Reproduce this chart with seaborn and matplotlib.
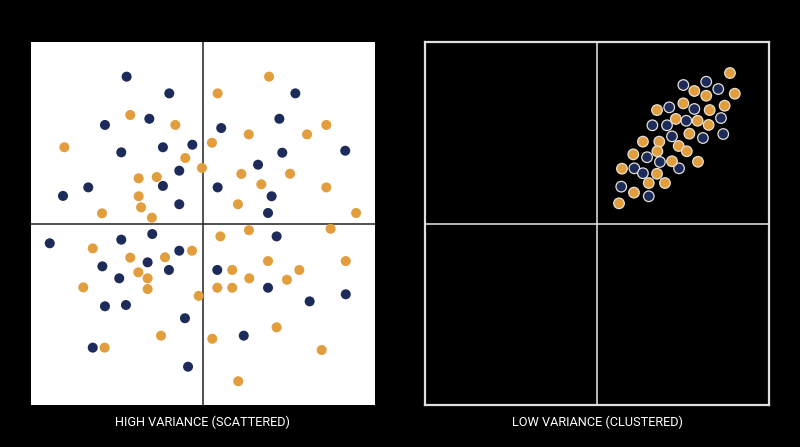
import numpy as np
import pandas as pd
import matplotlib
matplotlib.use("Agg")
import matplotlib.pyplot as plt
import seaborn as sns

# ---------------- data ----------------
# High variance panel
high_navy_x = [-0.444, -0.196, -0.312, -0.570, -0.233, -0.062, -0.475, -0.138, -0.233, -0.667,
               -0.814, -0.138, 0.537, 0.444, 0.106, 0.461, 0.827, 0.320, 0.085, 0.399,
               0.378, -0.295, -0.891, -0.475, -0.138, -0.585, -0.322, -0.198, -0.487, -0.570,
               -0.448, -0.105, -0.641, -0.087, 0.428, 0.083, 0.378, 0.620, 0.830, 0.237]
high_navy_y = [0.809, 0.717, 0.577, 0.543, 0.420, 0.434, 0.392, 0.291, 0.207, 0.199,
               0.152, 0.106, 0.717, 0.577, 0.526, 0.390, 0.401, 0.324, 0.199, 0.150,
               0.058, -0.058, -0.109, -0.089, -0.150, -0.236, -0.214, -0.256, -0.302, -0.456,
               -0.449, -0.522, -0.684, -0.789, -0.071, -0.256, -0.354, -0.429, -0.390, -0.618]
high_orange_x = [-0.423, -0.161, -0.806, -0.103, -0.006, -0.374, -0.269, -0.374, -0.360, -0.587,
                 -0.297, 0.384, 0.085, 0.717, 0.266, 0.605, 0.052, 0.223, 0.506, 0.339,
                 0.717, 0.203, 0.890, -0.641, -0.064, -0.423, -0.221, -0.376, -0.322, -0.322,
                 -0.696, -0.025, -0.244, -0.572, 0.267, 0.742, 0.101, 0.378, 0.170, 0.830,
                 0.560, 0.269, 0.488, 0.083, 0.170, 0.428, 0.054, 0.690, 0.205]
high_orange_y = [0.598, 0.543, 0.420, 0.361, 0.306, 0.249, 0.256, 0.150, 0.089, 0.056,
                 0.032, 0.809, 0.717, 0.543, 0.491, 0.491, 0.445, 0.273, 0.274, 0.216,
                 0.199, 0.106, 0.058, -0.137, -0.150, -0.188, -0.186, -0.269, -0.302, -0.361,
                 -0.352, -0.399, -0.618, -0.684, -0.037, -0.029, -0.071, -0.207, -0.256, -0.207,
                 -0.256, -0.302, -0.310, -0.354, -0.354, -0.572, -0.635, -0.697, -0.869]

# Low variance panel
low_navy_x = [0.502, 0.635, 0.705, 0.420, 0.566, 0.721, 0.322, 0.407, 0.519, 0.436,
              0.616, 0.734, 0.291, 0.366, 0.217, 0.267, 0.477, 0.141, 0.301]
low_navy_y = [0.763, 0.781, 0.741, 0.640, 0.631, 0.581, 0.541, 0.541, 0.566, 0.480,
              0.471, 0.493, 0.365, 0.339, 0.304, 0.277, 0.304, 0.203, 0.150]
low_orange_x = [0.773, 0.566, 0.635, 0.801, 0.502, 0.349, 0.655, 0.742, 0.458, 0.585,
                0.649, 0.537, 0.267, 0.362, 0.475, 0.351, 0.522, 0.211, 0.436, 0.587,
                0.145, 0.349, 0.301, 0.395, 0.215, 0.128]
low_orange_y = [0.829, 0.730, 0.704, 0.715, 0.662, 0.625, 0.625, 0.649, 0.576, 0.566,
                0.543, 0.495, 0.451, 0.451, 0.427, 0.398, 0.398, 0.381, 0.343, 0.340,
                0.302, 0.274, 0.223, 0.223, 0.170, 0.111]

panel_titles = ["HIGH VARIANCE (SCATTERED)", "LOW VARIANCE (CLUSTERED)"]
groups = ["navy", "orange"]

NAVY = "#1d2b5b"
ORANGE = "#e29d3c"
palette = {"navy": NAVY, "orange": ORANGE}


def make_df(nx, ny, ox, oy):
    return pd.DataFrame({
        "x": list(nx) + list(ox),
        "y": list(ny) + list(oy),
        "group": [groups[0]] * len(nx) + [groups[1]] * len(ox),
    })


df_high = make_df(high_navy_x, high_navy_y, high_orange_x, high_orange_y)
df_low = make_df(low_navy_x, low_navy_y, low_orange_x, low_orange_y)

# ---------------- figure ----------------
sns.set_theme(style="white")
plt.rcParams["font.family"] = ["Roboto", "DejaVu Sans"]

W, H = 800, 447
fig = plt.figure(figsize=(W / 100, H / 100), dpi=100, facecolor="black")

ax1 = fig.add_axes([31 / W, 1 - 405 / H, 344 / W, 363 / H])
ax2 = fig.add_axes([425 / W, 1 - 405 / H, 344 / W, 363 / H])

# Left panel
ax1.set_facecolor("white")
ax1.axhline(0, color="#222222", lw=1.1, zorder=1)
ax1.axvline(0, color="#222222", lw=1.1, zorder=1)
sns.scatterplot(data=df_high, x="x", y="y", hue="group", palette=palette,
                s=52, linewidth=0, legend=False, ax=ax1, zorder=3)
for sp in ax1.spines.values():
    sp.set_visible(False)

# Right panel
ax2.set_facecolor("black")
ax2.axhline(0, color="#d8d8d8", lw=1.2, zorder=1)
ax2.axvline(0, color="#d8d8d8", lw=1.2, zorder=1)
sns.scatterplot(data=df_low, x="x", y="y", hue="group", palette=palette,
                s=58, linewidth=0.9, edgecolor="#e6e1d6", legend=False, ax=ax2, zorder=3)
for sp in ax2.spines.values():
    sp.set_visible(True)
    sp.set_color("#e0e0e0")
    sp.set_linewidth(1.6)

for ax in (ax1, ax2):
    ax.set_xlim(-1, 1)
    ax.set_ylim(-1, 1)
    ax.set_xticks([])
    ax.set_yticks([])
    ax.set_xlabel("")
    ax.set_ylabel("")

fig.text(203 / W, 1 - 422 / H, panel_titles[0], color="white", fontsize=9.2,
         ha="center", va="center")
fig.text(597 / W, 1 - 422 / H, panel_titles[1], color="white", fontsize=9.2,
         ha="center", va="center")

fig.savefig("out.png", dpi=100, facecolor="black")
